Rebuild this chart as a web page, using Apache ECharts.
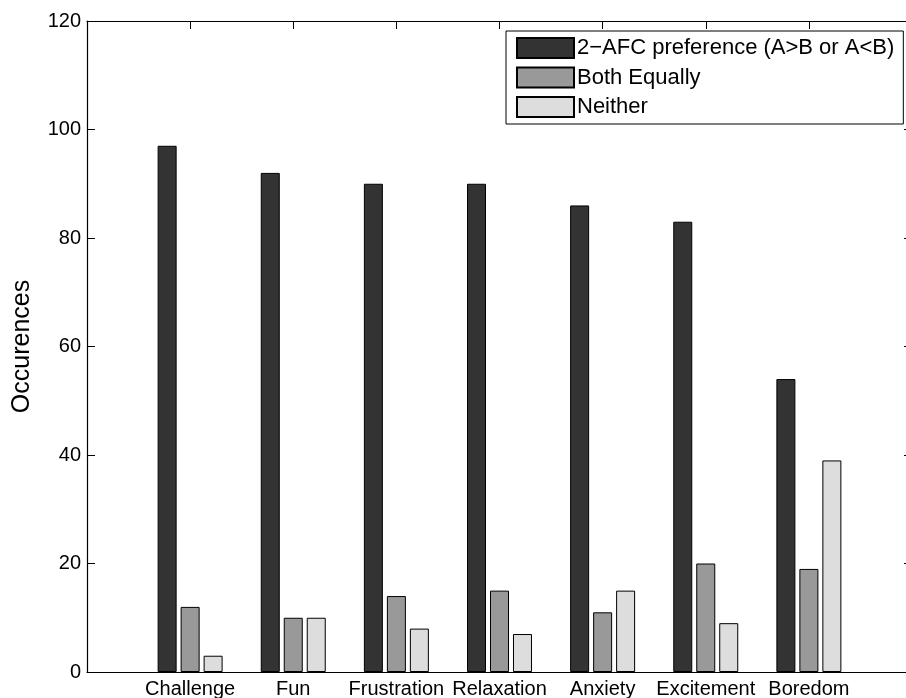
<!DOCTYPE html>
<html>
<head>
<meta charset="utf-8">
<script src="https://cdn.jsdelivr.net/npm/echarts@6/dist/echarts.min.js"></script>
<style>
html,body{margin:0;padding:0;background:#fff;}
#chart{width:906px;height:698px;}
</style>
</head>
<body>
<div id="chart"></div>
<script>
const categories = ['Challenge','Fun','Frustration','Relaxation','Anxiety','Excitement','Boredom'];
const seriesNames = ['2\u2212AFC preference (A>B or A<B)','Both Equally','Neither'];
const prefValues = [97, 92, 90, 90, 86, 83, 54];
const equalValues = [12, 10, 14, 15, 11, 20, 19];
const neitherValues = [3, 10, 8, 7, 15, 9, 39];
const yTicks = [0, 20, 40, 60, 80, 100, 120];

const colors = ['#333333', '#999999', '#dddddd'];
const font = 'Liberation Sans, Arial, Helvetica, sans-serif';

function toPoints(vals){ return vals.map((v,i)=>[i+1, v]); }

const chart = echarts.init(document.getElementById('chart'), null, {renderer:'canvas'});
const axisLine = {show:true, onZero:false, lineStyle:{color:'#000', width:1.2}};
const tickStyle = {show:true, inside:true, length:8, lineStyle:{color:'#000', width:1}};

chart.setOption({
  animation:false,
  backgroundColor:'#fff',
  textStyle:{fontFamily:font},
  grid:{left:87, top:21, right:-6, bottom:26, containLabel:false, outerBoundsMode:'none'},
  legend:{
    orient:'vertical', left:506, top:31,
    itemWidth:57, itemHeight:20, itemGap:7.5,
    padding:[6,9,6,10],
    borderColor:'#000', borderWidth:1, backgroundColor:'#fff',
    align:'left',
    icon:'rect',
    textStyle:{fontFamily:font, fontSize:22, lineHeight:20, color:'#000', padding:[0,0,0,-2]},
    data:seriesNames
  },
  xAxis:[{
    type:'value', min:0, max:8, interval:1, position:'bottom',
    axisLine:axisLine, axisTick:tickStyle, splitLine:{show:false},
    axisLabel:{fontFamily:font, fontSize:20, color:'#000', margin:7,
      showMinLabel:true, showMaxLabel:true,
      formatter:function(v){ return (v>=1 && v<=categories.length) ? categories[v-1] : ''; }}
  },{
    type:'value', min:0, max:8, interval:1, position:'top',
    axisLine:axisLine, axisTick:tickStyle, splitLine:{show:false},
    axisLabel:{show:false}
  }],
  yAxis:[{
    type:'value', min:yTicks[0], max:yTicks[yTicks.length-1], interval:20, position:'left',
    name:'Occurences', nameLocation:'middle', nameGap:52,
    nameTextStyle:{fontFamily:font, fontSize:25, color:'#000'},
    axisLine:axisLine, axisTick:tickStyle, splitLine:{show:false},
    axisLabel:{fontFamily:font, fontSize:20, color:'#000', margin:6}
  },{
    type:'value', min:yTicks[0], max:yTicks[yTicks.length-1], interval:20, position:'right',
    axisLine:axisLine, axisTick:tickStyle, splitLine:{show:false},
    axisLabel:{show:false}
  }],
  series:[prefValues, equalValues, neitherValues].map((vals, k)=>({
    name:seriesNames[k], type:'bar', xAxisIndex:0, yAxisIndex:0,
    data:toPoints(vals), barWidth:19, barGap:'21%',
    itemStyle:{color:colors[k], borderColor:'#000', borderWidth:1}
  }))
});
</script>
</body>
</html>
